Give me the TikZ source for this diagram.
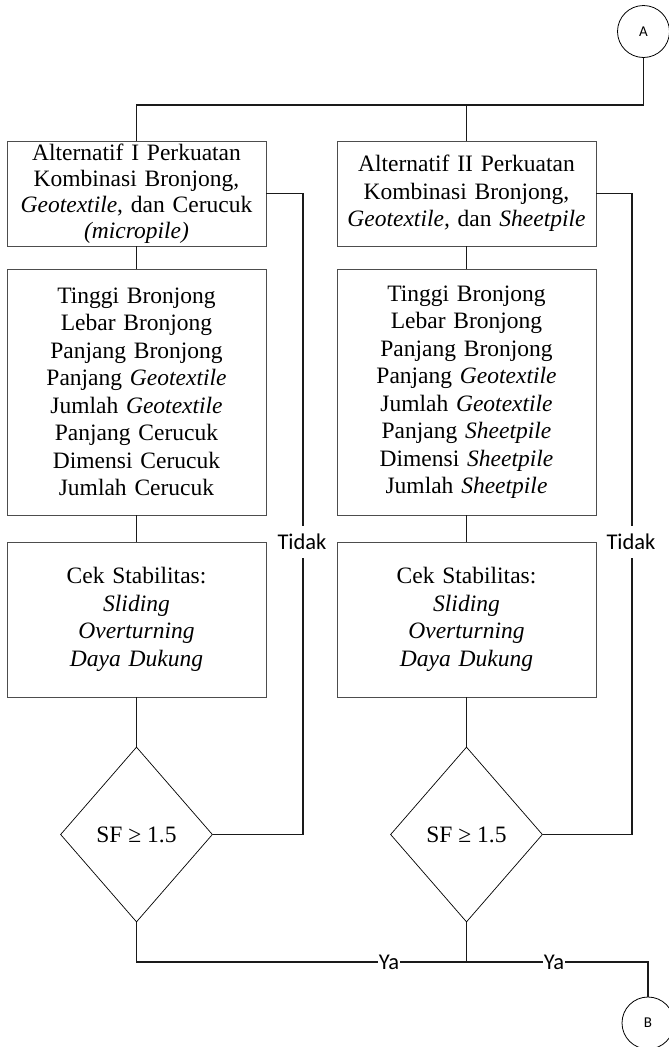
\documentclass[tikz,border=0pt]{standalone}
\usepackage{fontspec}
\setmainfont{Liberation Serif}
\newfontfamily\labfont{Carlito}
\usepackage{xcolor}
\usepackage{tikz}
\usetikzlibrary{shapes.geometric}
\definecolor{edge}{HTML}{1A1A1A}
\definecolor{frame}{HTML}{4D4D4D}
\newcommand{\boxfont}{\fontsize{23.5}{27.5}\selectfont}
\tikzset{
  proc/.style={rectangle, draw=frame, line width=0.9pt, align=center, text width=255pt, minimum width=259pt, inner xsep=2pt, inner ysep=0pt, font=\boxfont},
  dec/.style={diamond, draw=black, line width=0.7pt, inner sep=0pt, minimum width=152pt, minimum height=175pt, font=\boxfont},
  conn/.style={draw=edge, line width=1.5pt},
  term/.style={circle, draw=black, line width=0.8pt, minimum size=52pt, inner sep=0pt, font=\labfont\fontsize{15}{17}\selectfont},
  lab/.style={fill=white, inner xsep=1pt, inner ysep=8pt, font=\labfont\fontsize{22.5}{25}\selectfont},
}

\begin{document}
\begin{tikzpicture}[x=1pt, y=-1pt]
  \useasboundingbox (0,0) rectangle (669,1047);

  \node[term] (A) at (643.5,31.5) {A};
  \node[term] (B) at (648,1023) {B};

  \node[proc, minimum height=105pt, font=\fontsize{23.5}{26}\selectfont] (alt1) at (136.5,193.5)
    {Alternatif I Perkuatan\\Kombinasi Bronjong,\\\textit{Geotextile}, dan Cerucuk\\\textit{(micropile)}};
  \node[proc, minimum height=105pt] (alt2) at (466.5,193.5)
    {Alternatif II Perkuatan\\Kombinasi Bronjong,\\\textit{Geotextile,} dan \textit{Sheetpile}};

  \node[proc, minimum height=246pt] (par1) at (136.5,392)
    {Tinggi Bronjong\\Lebar Bronjong\\Panjang Bronjong\\Panjang \textit{Geotextile}\\Jumlah \textit{Geotextile}\\Panjang Cerucuk\\Dimensi Cerucuk\\Jumlah Cerucuk};
  \node[proc, minimum height=246pt] (par2) at (466.5,392)
    {Tinggi Bronjong\\Lebar Bronjong\\Panjang Bronjong\\Panjang \textit{Geotextile}\\Jumlah \textit{Geotextile}\\Panjang \textit{Sheetpile}\\Dimensi \textit{Sheetpile}\\Jumlah \textit{Sheetpile}};

  \node[proc, minimum height=155pt] (cek1) at (136.5,619.5)
    {Cek Stabilitas:\\\textit{Sliding}\\\textit{Overturning}\\\textit{Daya Dukung}};
  \node[proc, minimum height=155pt] (cek2) at (466.5,619.5)
    {Cek Stabilitas:\\\textit{Sliding}\\\textit{Overturning}\\\textit{Daya Dukung}};

  \node[dec] (sf1) at (136.5,834.5) {SF ≥ 1.5};
  \node[dec] (sf2) at (466.5,834.5) {SF ≥ 1.5};

  \coordinate (split) at (466.5,105);
  \coordinate (join) at (466.5,962);

  \draw[conn] (A.south) -- (A.south |- split) -- (alt1.north |- split) -- (alt1.north);
  \draw[conn] (split) -- (alt2.north);

  \draw[conn] (alt1) -- (par1);
  \draw[conn] (par1) -- (cek1);
  \draw[conn] (cek1) -- (sf1);
  \draw[conn] (alt2) -- (par2);
  \draw[conn] (par2) -- (cek2);
  \draw[conn] (cek2) -- (sf2);

  % back to the choice when SF is too small
  \draw[conn] (sf1.east) -- ++(90,0) |- (alt1.east);
  \draw[conn] (sf2.east) -- ++(89,0) |- (alt2.east);
  \node[lab] (tidak1) at (302,542) {Tidak};
  \node[lab] (tidak2) at (631,542) {Tidak};

  \draw[conn] (sf1.south) |- (join) -| (B.north);
  \draw[conn] (sf2.south) -- (join);
  \node[lab] (ya1) at (389,962) {Ya};
  \node[lab] (ya2) at (554,962) {Ya};
\end{tikzpicture}
\end{document}
